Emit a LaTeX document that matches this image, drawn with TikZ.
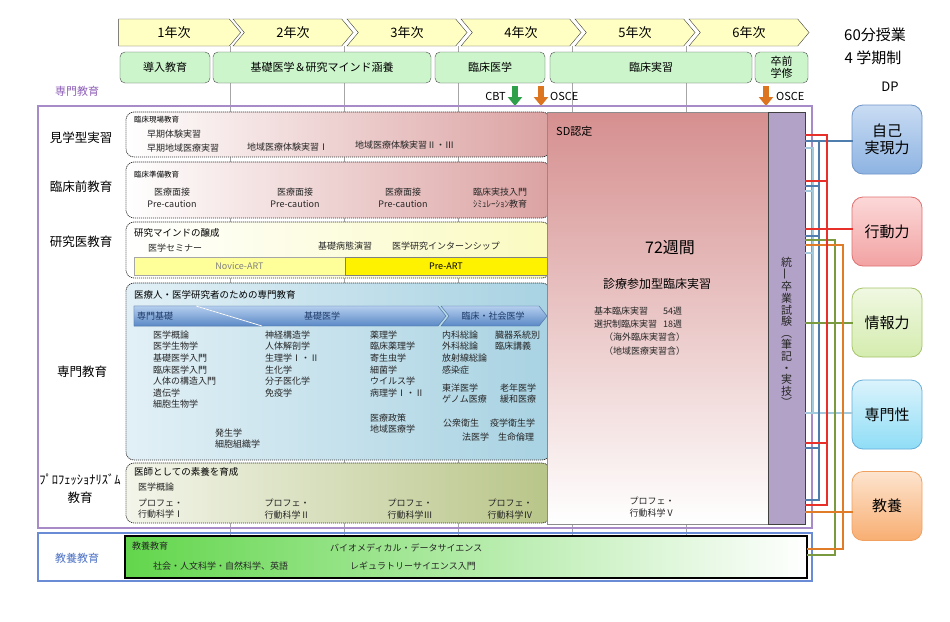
\documentclass[tikz,border=0pt]{standalone}
\usepackage{xcolor}
\usepackage{fontspec}
\setmainfont{Noto Sans CJK JP}
\usetikzlibrary{shapes.symbols,arrows.meta}

\definecolor{yearfill}{HTML}{FFFFC4}
\definecolor{stagefill}{HTML}{CCF5CC}
\definecolor{framepurple}{HTML}{A78BC8}
\definecolor{frameblue}{HTML}{6A8CD6}
\definecolor{textpurple}{HTML}{8F5FB8}
\definecolor{textblue}{HTML}{4A70C4}
\definecolor{pinkend}{HTML}{DCA2A2}
\definecolor{yellowend}{HTML}{FAFAC0}
\definecolor{bluestart}{HTML}{E2F0F6}
\definecolor{blueend}{HTML}{A8D2E2}
\definecolor{olivestart}{HTML}{F3F5EA}
\definecolor{oliveend}{HTML}{B8C588}
\definecolor{greenstart}{HTML}{62D64C}
\definecolor{greenmid}{HTML}{CDEFC4}
\definecolor{noviceyellow}{HTML}{FFFF99}
\definecolor{bannertop}{HTML}{B4CEEE}
\definecolor{bannerbottom}{HTML}{5A88C6}
\definecolor{bannertext}{HTML}{1F3A68}
\definecolor{sdtop}{HTML}{D68F8F}
\definecolor{examfill}{HTML}{B2A2C7}
\definecolor{lineRed}{HTML}{E8302A}
\definecolor{lineSteel}{HTML}{4F7EAE}
\definecolor{lineLight}{HTML}{A3C9DC}
\definecolor{lineOlive}{HTML}{7A9A40}
\definecolor{lineOrange}{HTML}{E07B28}
\definecolor{cbtgreen}{HTML}{2FA04A}
\definecolor{osceorange}{HTML}{DC7420}
\definecolor{dpBlueTop}{HTML}{C9DCF3}
\definecolor{dpBlueBot}{HTML}{8DB3E2}
\definecolor{dpBlueLine}{HTML}{6F95C8}
\definecolor{dpRedTop}{HTML}{FCD8D8}
\definecolor{dpRedBot}{HTML}{F2A2A2}
\definecolor{dpRedLine}{HTML}{E07070}
\definecolor{dpGreenTop}{HTML}{F0F8E2}
\definecolor{dpGreenBot}{HTML}{D4ECAE}
\definecolor{dpGreenLine}{HTML}{A6C46A}
\definecolor{dpCyanTop}{HTML}{DBF3FC}
\definecolor{dpCyanBot}{HTML}{8FDDF6}
\definecolor{dpCyanLine}{HTML}{66AEDA}
\definecolor{dpOrangeTop}{HTML}{FDE4CE}
\definecolor{dpOrangeBot}{HTML}{F8AE72}
\definecolor{dpOrangeLine}{HTML}{F0A060}

\begin{document}
\begin{tikzpicture}[x=1pt,y=-1pt]
			\tikzstyle{yearbox} = [signal, signal to=east, signal from=west, signal pointer angle=100, draw=black!75, fill=yearfill, minimum width=120pt, minimum height=27pt, inner sep=0pt, font=\fontsize{13}{15}\selectfont]
			\tikzstyle{stagebox} = [draw=black!70, fill=stagefill, rounded corners=5pt, minimum height=31pt, inner sep=0pt, align=center, font=\fontsize{11}{12}\selectfont]
			\tikzstyle{dashbox} = [draw=black!80, dash pattern=on 1.2pt off 0.8pt, rounded corners=8pt, line width=0.7pt, minimum width=424pt]
			\tikzstyle{rowlabel} = [align=center, font=\fontsize{12.5}{18}\selectfont]
			\tikzstyle{headtext} = [anchor=west, inner sep=0pt, font=\fontsize{9.5}{11.6}\selectfont]
			\tikzstyle{smallhead} = [anchor=west, inner sep=0pt, font=\fontsize{7.5}{9}\selectfont]
			\tikzstyle{itemtext} = [inner sep=0pt, text=black!85, font=\fontsize{9}{11.6}\selectfont]
			\tikzstyle{bannertext} = [text=bannertext, font=\fontsize{9}{11}\selectfont]
			\tikzstyle{dpbox} = [rounded corners=11pt, minimum width=70pt, minimum height=69pt, line width=0.8pt, align=center, font=\fontsize{15}{17}\selectfont]
			\tikzset{divider/.style = {draw=black!35, line width=0.6pt}}
			\tikzset{banner/.style = {top color=bannertop, bottom color=bannerbottom, draw=bannerbottom!80!black, line width=0.4pt}}
			\tikzset{blockarrow/.style = {line width=5.5pt, -{Triangle[width=14pt,length=9pt]}}}
			\tikzset{bus/.style = {line width=1.8pt, line cap=rect}}
			
			\fill[white] (0,0) rectangle (950,621);
			\useasboundingbox (0,0) rectangle (950,621);
			
			\draw[divider] (230,46) -- (230,540);
			\draw[divider] (344.5,46) -- (344.5,540);
			\draw[divider] (458.5,46) -- (458.5,540);
			\draw[divider] (572.5,46) -- (572.5,540);
			\draw[divider] (686.5,46) -- (686.5,540);
			
			\node[yearbox, signal from=nowhere, minimum width=122pt](year1) at (174,32.5) {1年次};
			\node[yearbox](year2) at (293,32.5) {2年次};
			\node[yearbox](year3) at (407,32.5) {3年次};
			\node[yearbox](year4) at (521,32.5) {4年次};
			\node[yearbox](year5) at (635,32.5) {5年次};
			\node[yearbox](year6) at (749,32.5) {6年次};
			
			\node[stagebox, minimum width=90pt](intro) at (165,67.5) {導入教育};
			\node[stagebox, minimum width=218pt](basic) at (322,67.5) {基礎医学＆研究マインド涵養};
			\node[stagebox, minimum width=110pt](clinmed) at (490,67.5) {臨床医学};
			\node[stagebox, minimum width=202pt](clinprac) at (651,67.5) {臨床実習};
			\node[stagebox, minimum width=53pt](presgrad) at (781.5,67.5) {卒前\\学修};
			
			\node[font=\fontsize{15}{17}\selectfont](lesson) at (875,35) {60分授業};
			\node[font=\fontsize{15}{17}\selectfont](terms) at (873,58) {4 学期制};
			\node[font=\fontsize{13}{15}\selectfont](dp) at (890,87) {DP};
			
			\node[font=\fontsize{11}{13}\selectfont, anchor=east, inner sep=0pt](cbt) at (506,96) {CBT};
			\coordinate (cbtTop) at (515,86);
			\coordinate (cbtEnd) at (515,106);
			\draw[blockarrow, cbtgreen](cbtTop) to (cbtEnd);
			\coordinate (osceTop) at (541,86);
			\coordinate (osceEnd) at (541,106);
			\draw[blockarrow, osceorange](osceTop) to (osceEnd);
			\node[font=\fontsize{11}{13}\selectfont, anchor=west, inner sep=0pt](osce) at (550,96) {OSCE};
			\coordinate (osceTopB) at (766,86);
			\coordinate (osceEndB) at (766,106);
			\draw[blockarrow, osceorange](osceTopB) to (osceEndB);
			\node[font=\fontsize{11}{13}\selectfont, anchor=west, inner sep=0pt](osceB) at (776,96) {OSCE};
			
			\node[text=textpurple, font=\fontsize{11}{13}\selectfont](senmonTitle) at (77,91) {専門教育};
			\draw[framepurple, line width=1.4pt] (38,106) rectangle (812,528);
			\draw[frameblue, line width=1.2pt] (38,533) rectangle (812,581);
			
			\node[rowlabel](rowKengaku) at (81,138) {見学型実習};
			\node[rowlabel](rowRinsho) at (81,187) {臨床前教育};
			\node[rowlabel](rowKenkyu) at (81,242) {研究医教育};
			\node[rowlabel](rowSenmon) at (82,372) {専門教育};
			\node[rowlabel](rowProf) at (80,489) {ﾌﾟﾛﾌｪｯｼｮﾅﾘｽﾞﾑ\\教育};
			\node[text=textblue, font=\fontsize{11}{13}\selectfont](rowKyoyo) at (77,558) {教養教育};
			
			\node[dashbox, minimum height=45pt, left color=white, right color=pinkend](kengakuBox) at (338,134.5) {};
			\node[smallhead](kengakuHead) at (134,120) {臨床現場教育};
			\node[itemtext, anchor=west](early1) at (147,134) {早期体験実習};
			\node[itemtext, anchor=west](early2) at (147,148) {早期地域医療実習};
			\node[itemtext, anchor=west](local1) at (247,147) {地域医療体験実習Ⅰ};
			\node[itemtext, anchor=west](local2) at (355,145) {地域医療体験実習Ⅱ・Ⅲ};
			
			\node[dashbox, minimum height=56pt, left color=white, right color=pinkend](rinshoBox) at (338,190) {};
			\node[smallhead](rinshoHead) at (134,175) {臨床準備教育};
			\node[itemtext, align=center](interview1) at (172,198) {医療面接\\Pre-caution};
			\node[itemtext, align=center](interview2) at (295,198) {医療面接\\Pre-caution};
			\node[itemtext, align=center](interview3) at (403,198) {医療面接\\Pre-caution};
			\node[itemtext, align=center](skills) at (500,198) {臨床実技入門\\ｼﾐｭﾚｰｼｮﾝ教育};
			
			\node[dashbox, minimum height=56pt, left color=white, right color=yellowend](kenkyuBox) at (338,250) {};
			\node[headtext](kenkyuHead) at (134,233) {研究マインドの醸成};
			\node[itemtext, anchor=west](seminar) at (148,248) {医学セミナー};
			\node[itemtext, anchor=west](pathoEx) at (318,246) {基礎病態演習};
			\node[itemtext, anchor=west](intern) at (392,246) {医学研究インターンシップ};
			\node[draw=black!35, fill=noviceyellow, minimum width=211pt, minimum height=18pt, inner sep=0pt, text=black!50, font=\fontsize{9}{11}\selectfont](novice) at (239.5,266) {Novice-ART};
			\node[draw=black!50, fill=yellow, minimum width=202pt, minimum height=18pt, inner sep=0pt, font=\fontsize{9}{11}\selectfont](preart) at (446,266) {Pre-ART};
			
			\node[dashbox, minimum height=177pt, left color=bluestart, right color=blueend](senmonBox) at (338,371.5) {};
			\node[headtext](senmonHead) at (134,295) {医療人・医学研究者のための専門教育};
			\path[banner] (134,306) -- (438,306) -- (446,316) -- (438,326) -- (134,326) -- cycle;
			\path[banner] (441,306) -- (539,306) -- (547,316) -- (539,326) -- (441,326) -- (449,316) -- cycle;
			\path[banner] (134,306) -- (196,306) -- (262,326) -- (134,326) -- cycle;
			\draw[white, line width=0.8pt] (196,306) -- (262,326);
			\node[bannertext](kiso) at (155,316) {専門基礎};
			\node[bannertext](kisoIgaku) at (322,316) {基礎医学};
			\node[bannertext](rinshoShakai) at (493,316) {臨床・社会医学};
			\node[itemtext, anchor=north west, align=left](col1) at (153,330.5) {医学概論\\医学生物学\\基礎医学入門\\臨床医学入門\\人体の構造入門\\遺伝学\\細胞生物学};
			\node[itemtext, anchor=north west, align=left](col1b) at (215,428.5) {発生学\\細胞組織学};
			\node[itemtext, anchor=north west, align=left](col2) at (265,330.5) {神経構造学\\人体解剖学\\生理学Ⅰ・Ⅱ\\生化学\\分子医化学\\免疫学};
			\node[itemtext, anchor=north west, align=left](col3) at (370,330.5) {薬理学\\臨床薬理学\\寄生虫学\\細菌学\\ウイルス学\\病理学Ⅰ・Ⅱ};
			\node[itemtext, anchor=north west, align=left](col3b) at (370,413.5) {医療政策\\地域医療学};
			\node[itemtext, anchor=north west, align=left](col4) at (442,330.5) {内科総論\\外科総論\\放射線総論\\感染症};
			\node[itemtext, anchor=north west, align=left](col5) at (495,330.5) {臓器系統別\\臨床講義};
			\node[itemtext, anchor=north west, align=left](col4b) at (442,383.5) {東洋医学\\ゲノム医療};
			\node[itemtext, anchor=north west, align=left](col5b) at (500,383.5) {老年医学\\緩和医療};
			\node[itemtext, anchor=west](public) at (443,423) {公衆衛生};
			\node[itemtext, anchor=west](epidem) at (490,423) {疫学衛生学};
			\node[itemtext, anchor=west](forensic) at (462,437) {法医学};
			\node[itemtext, anchor=west](bioethics) at (498,437) {生命倫理};
			
			\node[dashbox, minimum height=60pt, left color=olivestart, right color=oliveend](profBox) at (338,493) {};
			\node[headtext](profHead) at (134,472) {医師としての素養を育成};
			\node[itemtext, anchor=west](profIntro) at (138,487) {医学概論};
			\node[itemtext, anchor=north west, align=left](prof1) at (138,498.5) {プロフェ・\\行動科学Ⅰ};
			\node[itemtext, align=center](prof2) at (287,509) {プロフェ・\\行動科学Ⅱ};
			\node[itemtext, align=center](prof3) at (410,509) {プロフェ・\\行動科学Ⅲ};
			\node[itemtext, align=center](prof4) at (510,509) {プロフェ・\\行動科学Ⅳ};
			
			\node[draw=black, line width=1.2pt, minimum width=682pt, minimum height=42pt, left color=greenstart, middle color=greenmid, right color=white](kyoyoBox) at (466,557) {};
			\node[itemtext, anchor=west](kyoyoHead) at (132,546) {教養教育};
			\node[itemtext, anchor=west](biomed) at (330,548) {バイオメディカル・データサイエンス};
			\node[itemtext, anchor=west](liberal) at (153,566) {社会・人文科学・自然科学、英語};
			\node[itemtext, anchor=west](regsci) at (350,566) {レギュラトリーサイエンス入門};
			
			\node[draw=black!45, top color=sdtop, bottom color=white, minimum width=221pt, minimum height=412pt](sd) at (657.5,318) {};
			\node[anchor=west, inner sep=0pt, font=\fontsize{11}{13}\selectfont](sdHead) at (556,131) {SD認定};
			\node[font=\fontsize{16}{18}\selectfont](weeks) at (670,248) {72週間};
			\node[font=\fontsize{12}{14}\selectfont](clerk) at (657,284) {診療参加型臨床実習};
			\node[itemtext, anchor=west](basicClerk) at (594,311) {基本臨床実習};
			\node[itemtext, anchor=west](basicWeeks) at (663,311) {54週};
			\node[itemtext, anchor=west](electClerk) at (594,324) {選択制臨床実習};
			\node[itemtext, anchor=west](electWeeks) at (663,324) {18週};
			\node[itemtext, anchor=west](abroad) at (604,337) {（海外臨床実習含）};
			\node[itemtext, anchor=west](regional) at (604,351) {（地域医療実習含）};
			\node[itemtext, align=center](prof5) at (652,507) {プロフェ・\\行動科学Ⅴ};
			
			\node[draw=black!75, line width=0.8pt, fill=examfill, minimum width=37pt, minimum height=412pt](exam) at (786.5,318) {};
			\node[align=center, inner sep=0pt, text=black!85, font=\fontsize{11}{11.6}\selectfont](examText) at (786.5,332) {統\\\rotatebox{90}{一}\\卒\\業\\試\\験\\︵\\筆\\記\\・\\実\\技\\︶};
			
			\node[dpbox, draw=dpBlueLine, top color=dpBlueTop, bottom color=dpBlueBot](dpJiko) at (887,139.5) {自己\\実現力};
			\node[dpbox, draw=dpRedLine, top color=dpRedTop, bottom color=dpRedBot](dpKodo) at (887,231.5) {行動力};
			\node[dpbox, draw=dpGreenLine, top color=dpGreenTop, bottom color=dpGreenBot](dpJoho) at (887,322.5) {情報力};
			\node[dpbox, draw=dpCyanLine, top color=dpCyanTop, bottom color=dpCyanBot](dpSenmon) at (887,414.5) {専門性};
			\node[dpbox, draw=dpOrangeLine, top color=dpOrangeTop, bottom color=dpOrangeBot](dpKyoyo) at (887,506) {教養};
			
			\coordinate (busLight) at (813,0);
			\coordinate (busSteel) at (819,0);
			\coordinate (busRed) at (827,0);
			\coordinate (busOlive) at (835,0);
			\coordinate (busOrange) at (843,0);
			
			\draw[bus, lineLight] (exam.east |- 0,148) -- (busLight |- 0,148) (exam.east |- 0,191) -- (busLight |- 0,191) (exam.east |- 0,253) -- (busLight |- 0,253);
			\draw[bus, lineLight] (busLight |- 0,148) -- (busLight |- 0,413);
			\draw[bus, lineLight] (exam.east |- 0,413) -- (dpSenmon.west |- 0,413);
			
			\draw[bus, lineSteel] (exam.east |- 0,186) -- (busSteel |- 0,186) (exam.east |- 0,236) -- (busSteel |- 0,236) (exam.east |- 0,448) -- (busSteel |- 0,448) (exam.east |- 0,500) -- (busSteel |- 0,500);
			\draw[bus, lineSteel] (busSteel |- 0,141) -- (busSteel |- 0,500);
			\draw[bus, lineSteel] (exam.east |- 0,141) -- (dpJiko.west |- 0,141);
			
			\draw[bus, lineOlive] (exam.east |- 0,240) -- (busOlive |- 0,240) (kyoyoBox.east |- 0,555) -- (busOlive |- 0,555);
			\draw[bus, lineOlive] (busOlive |- 0,240) -- (busOlive |- 0,555);
			\draw[bus, lineOlive] (exam.east |- 0,323) -- (dpJoho.west |- 0,323);
			
			\draw[bus, lineOrange] (exam.east |- 0,245) -- (busOrange |- 0,245) (kyoyoBox.east |- 0,549) -- (busOrange |- 0,549);
			\draw[bus, lineOrange] (busOrange |- 0,245) -- (busOrange |- 0,549);
			\draw[bus, lineOrange] (exam.east |- 0,512) -- (dpKyoyo.west |- 0,512);
			
			\draw[bus, lineRed] (exam.east |- 0,135) -- (busRed |- 0,135) (exam.east |- 0,181) -- (busRed |- 0,181) (exam.east |- 0,443) -- (busRed |- 0,443) (exam.east |- 0,505) -- (busRed |- 0,505);
			\draw[bus, lineRed] (busRed |- 0,135) -- (busRed |- 0,505);
			\draw[bus, lineRed] (exam.east |- 0,229) -- (dpKodo.west |- 0,229);
			
			\end{tikzpicture}
\end{document}
